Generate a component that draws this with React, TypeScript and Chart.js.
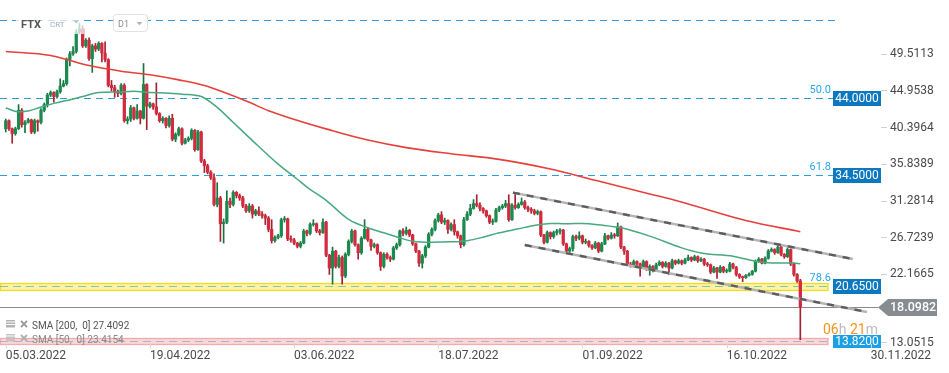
import React, { useEffect, useRef } from "react";
import { Chart, registerables } from "chart.js";

Chart.register(...registerables);

// ---------------- data ----------------
const symbol = "FTX";
const symbolType = "CRT";
const interval = "D1";

// daily candles, day 0 = 05.03.2022 ... day 248 = 08.11.2022
const firstOpen = 40.2;
const closes = [
  41.2, 40.2, 39.6, 40.2, 42.5, 40.7, 41.0, 41.3, 39.8, 41.2,
  41.0, 42.5, 43.2, 44.4, 44.7, 44.2, 44.8, 45.5, 45.8, 48.8,
  49.5, 49.8, 52.2, 52.6, 50.5, 51.2, 48.9, 50.5, 50.1, 50.8,
  49.6, 48.8, 45.6, 45.3, 44.8, 44.6, 45.6, 41.2, 41.4, 42.8,
  41.5, 42.4, 41.5, 45.7, 43.0, 43.3, 42.9, 42.1, 41.2, 41.5,
  40.6, 41.5, 38.9, 39.5, 40.2, 38.4, 38.8, 39.0, 40.0, 37.6,
  39.8, 36.2, 35.6, 34.8, 34.1, 30.8, 31.6, 28.4, 28.6, 31.2,
  30.8, 32.3, 31.9, 31.6, 30.6, 30.0, 30.6, 29.6, 30.0, 29.6,
  29.4, 29.1, 27.7, 26.3, 26.7, 26.9, 28.9, 29.0, 26.5, 26.4,
  26.0, 25.6, 26.0, 27.5, 27.2, 28.3, 28.4, 27.5, 27.3, 28.6,
  24.5, 22.9, 25.0, 23.1, 24.2, 21.9, 24.6, 26.2, 27.5, 25.8,
  24.8, 26.6, 27.7, 26.4, 25.6, 25.8, 24.8, 23.1, 24.6, 24.2,
  24.0, 25.4, 25.8, 27.5, 27.2, 27.6, 27.0, 25.9, 25.0, 23.5,
  24.4, 25.5, 27.1, 27.7, 28.8, 29.5, 28.6, 28.8, 27.7, 28.3,
  27.4, 26.9, 25.8, 28.9, 29.6, 30.3, 30.9, 30.7, 30.3, 30.0,
  29.4, 28.6, 28.7, 30.1, 30.4, 30.6, 30.9, 28.9, 30.7, 30.4,
  30.8, 31.1, 30.4, 30.2, 30.0, 29.7, 29.9, 27.0, 26.1, 27.3,
  26.8, 27.3, 27.5, 27.6, 25.9, 25.0, 25.3, 26.8, 26.6, 26.9,
  26.1, 26.2, 25.7, 25.4, 26.0, 25.0, 25.9, 26.9, 26.6, 27.0,
  26.9, 28.0, 25.5, 25.0, 23.4, 23.2, 23.7, 23.4, 22.9, 23.7,
  22.8, 23.1, 22.6, 23.3, 23.6, 23.1, 23.5, 22.9, 23.8, 23.5,
  23.8, 23.5, 23.9, 24.2, 23.9, 24.3, 23.8, 24.0, 23.4, 23.3,
  22.4, 22.9, 22.4, 23.0, 22.5, 22.5, 23.4, 23.0, 22.1, 21.8,
  21.7, 22.0, 22.1, 22.5, 23.7, 24.0, 23.5, 24.1, 25.0, 25.2,
  24.8, 25.5, 24.6, 24.3, 25.2, 23.4, 22.1, 21.3, 18.1,
];
const highs = [
  41.4, 41.3, 40.3, 40.4, 43.2, 42.7, 41.2, 41.5, 41.4, 41.4,
  41.3, 42.7, 43.4, 44.6, 44.9, 44.8, 45.0, 46.4, 46.2, 49.0,
  49.8, 50.4, 52.5, 53.3, 53.0, 51.4, 51.5, 50.7, 50.8, 51.0,
  50.9, 51.0, 48.9, 46.2, 45.6, 45.0, 45.8, 45.8, 41.7, 43.1,
  42.9, 43.2, 42.5, 48.3, 45.8, 43.5, 43.4, 45.9, 42.2, 41.7,
  41.6, 41.8, 42.0, 39.7, 40.4, 40.3, 39.0, 39.2, 40.2, 40.1,
  40.0, 39.9, 36.4, 35.8, 35.0, 34.6, 33.5, 31.8, 29.0, 32.5,
  31.6, 32.5, 32.4, 32.1, 31.8, 30.8, 30.9, 30.8, 30.2, 30.5,
  29.9, 29.6, 29.3, 28.9, 26.9, 27.1, 29.1, 29.3, 29.1, 26.9,
  26.6, 26.1, 26.2, 27.7, 27.6, 28.5, 28.9, 28.5, 27.7, 29.0,
  28.7, 24.6, 25.5, 25.1, 24.5, 24.4, 24.8, 26.4, 27.7, 27.6,
  25.9, 26.8, 28.9, 27.9, 26.5, 26.0, 25.9, 24.9, 24.8, 24.8,
  24.4, 25.6, 26.0, 27.6, 27.8, 28.0, 27.7, 27.1, 26.0, 25.1,
  24.6, 25.7, 27.3, 27.9, 29.0, 29.7, 29.9, 29.1, 28.9, 28.5,
  28.9, 27.5, 27.0, 29.2, 29.9, 30.8, 31.4, 32.0, 31.0, 30.4,
  30.1, 29.5, 29.0, 30.3, 30.6, 30.8, 31.3, 32.0, 30.9, 32.2,
  31.0, 31.6, 31.3, 30.6, 30.4, 30.2, 30.1, 30.0, 27.1, 27.5,
  27.4, 27.5, 27.7, 27.8, 27.7, 26.0, 25.5, 27.0, 27.0, 27.4,
  27.0, 26.5, 26.3, 25.8, 26.2, 26.1, 26.1, 27.2, 27.0, 27.3,
  27.2, 28.5, 28.1, 25.6, 25.1, 23.6, 23.9, 23.8, 23.5, 23.9,
  23.8, 23.3, 23.2, 23.5, 23.8, 23.7, 23.7, 23.6, 24.0, 23.9,
  24.0, 23.9, 24.1, 24.5, 24.3, 24.5, 24.4, 24.2, 24.1, 23.6,
  23.4, 23.1, 23.0, 23.2, 23.1, 22.8, 23.6, 23.5, 23.1, 22.2,
  21.9, 22.1, 22.3, 22.6, 23.9, 24.2, 24.1, 24.3, 25.2, 25.4,
  25.3, 25.8, 25.6, 24.7, 25.4, 25.3, 23.5, 22.2, 21.5,
];
const lows = [
  39.8, 40.0, 38.4, 39.4, 40.1, 40.4, 39.7, 40.9, 39.6, 39.6,
  39.9, 40.8, 42.3, 42.9, 44.2, 43.5, 44.0, 44.6, 45.4, 45.6,
  48.0, 49.3, 49.6, 52.0, 50.3, 50.3, 48.7, 47.2, 49.8, 49.9,
  48.5, 48.5, 45.4, 44.9, 44.1, 44.2, 44.4, 41.0, 40.8, 41.1,
  41.3, 41.4, 40.8, 41.4, 40.1, 42.8, 42.6, 41.9, 41.0, 40.9,
  40.3, 40.4, 38.7, 38.6, 39.3, 38.2, 38.3, 38.6, 38.8, 37.4,
  37.5, 36.0, 34.75, 34.6, 33.9, 30.6, 30.5, 26.2, 26.0, 28.4,
  30.4, 30.6, 31.6, 31.3, 30.4, 29.8, 29.8, 29.1, 29.4, 29.4,
  29.1, 28.3, 27.4, 26.0, 26.1, 26.5, 26.7, 28.6, 26.3, 26.1,
  25.8, 25.4, 25.4, 25.9, 26.9, 27.0, 28.1, 27.3, 27.0, 27.2,
  24.3, 22.1, 20.9, 22.9, 22.9, 20.9, 21.7, 24.4, 26.0, 25.6,
  24.0, 24.6, 26.5, 26.2, 25.1, 25.4, 24.6, 22.6, 22.9, 24.0,
  23.7, 23.9, 25.2, 25.6, 26.9, 27.0, 26.8, 25.7, 24.8, 23.1,
  22.9, 24.2, 25.4, 26.9, 27.5, 28.6, 28.4, 28.3, 27.2, 27.5,
  27.0, 26.6, 25.4, 25.6, 28.8, 29.4, 30.2, 30.5, 30.0, 29.7,
  29.2, 28.4, 28.3, 28.6, 29.9, 30.2, 30.4, 28.7, 28.8, 30.2,
  30.3, 30.7, 30.2, 29.9, 29.7, 29.5, 29.5, 26.8, 25.9, 26.0,
  26.5, 26.6, 27.0, 27.1, 25.7, 24.7, 24.8, 25.0, 26.3, 26.4,
  25.9, 25.9, 25.5, 25.2, 25.3, 24.8, 24.9, 25.8, 26.4, 26.5,
  26.6, 26.8, 25.3, 24.6, 23.2, 23.0, 23.0, 23.2, 21.9, 22.8,
  22.6, 22.0, 22.4, 22.5, 23.2, 22.9, 23.0, 22.1, 22.8, 23.3,
  23.4, 23.3, 23.4, 23.8, 23.7, 23.8, 23.6, 23.7, 23.2, 23.1,
  22.2, 22.3, 21.6, 22.3, 22.3, 22.3, 22.4, 22.8, 21.9, 21.6,
  21.2, 21.6, 21.9, 22.0, 22.4, 23.6, 23.4, 23.4, 24.0, 24.9,
  24.6, 24.7, 24.4, 24.1, 24.2, 23.2, 21.9, 21.1, 14.0,
];

// moving averages (day index -> value)
const sma200Days = [0, 14, 19, 26, 36, 45, 54, 62, 76, 82, 102, 113, 125, 139, 154, 170, 184, 201, 210, 231, 248];
const sma200Values = [49.8, 49.3, 48.8, 48.05, 47.35, 46.9, 46.27, 45.56, 43.48, 42.44, 39.95, 38.8, 37.86, 37.1, 36.4, 35.2, 33.8, 32.1, 31.2, 28.8, 27.41];
const sma50Days = [0, 4, 7, 11, 15, 19, 24, 29, 35, 40, 45, 50, 55, 61, 66, 71, 76, 85, 91, 94, 100, 107, 113, 118, 123, 127, 133, 139, 144, 149, 154, 160, 165, 170, 175, 180, 186, 192, 201, 211, 217, 227, 234, 239, 246, 248];
const sma50Values = [42.78, 42.3, 42.4, 42.9, 43.35, 43.7, 44.2, 44.7, 44.77, 44.85, 44.7, 44.65, 44.5, 44.2, 42.85, 40.98, 39.1, 35.8, 33.93, 32.96, 31.3, 28.94, 27.9, 27.27, 26.64, 26.23, 26.1, 26.15, 26.3, 26.73, 27.27, 27.77, 28.19, 28.44, 28.39, 28.44, 28.23, 27.89, 26.86, 25.4, 24.77, 24.36, 23.74, 23.53, 23.53, 23.42];

// descending channel
const channelUpperDays = [158.3, 264.4];
const channelUpperValues = [32.26, 24.02];
const channelLowerDays = [162.0, 268.8];
const channelLowerValues = [25.76, 17.44];

// horizontal levels
const fibTop = 53.7;
const fibLevels = [44.0, 34.5, 20.65];
const fibPercents = ["50.0", "61.8", "78.6"];
const fibLabels = ["44.0000", "34.5000", "20.6500"];
const lowLevel = 13.82;
const lowLabel = "13.8200";
const lastPrice = 18.0982;
const lastPriceLabel = "18.0982";
const bandHalf = 0.42;

// axes
const priceTicks = [49.5113, 44.9538, 40.3964, 35.8389, 31.2814, 26.7239, 22.1665, 17.609, 13.0515];
const dateDays = [0, 45, 90, 135, 180, 225, 270];
const dateLabels = ["05.03.2022", "19.04.2022", "03.06.2022", "18.07.2022", "01.09.2022", "16.10.2022", "30.11.2022"];

const smaLegend = ["SMA [200,  0] 27.4092", "SMA [50,  0] 23.4154"];
const countdownParts = ["06", "h", " 21", "m"];

// ---------------- styles ----------------
const FONT = "Roboto, 'Noto Sans', sans-serif";
const GREEN = "#1b8a4e";
const RED = "#d42a3e";
const GREEN_WICK = "#16743f";
const RED_WICK = "#a8202f";
const BLUE_LINE = "#2a9fe0";

const X_MIN = -1.8;
const X_MAX = 258.2;
const Y_MIN = 13.461;
const Y_MAX = 56.194;

function tri(ctx: CanvasRenderingContext2D, x: number, y: number, w: number, h: number, color: string) {
  ctx.fillStyle = color;
  ctx.beginPath();
  ctx.moveTo(x, y);
  ctx.lineTo(x + w, y);
  ctx.lineTo(x + w / 2, y + h);
  ctx.closePath();
  ctx.fill();
}

const overlayPlugin = {
  id: "overlay",
  beforeDatasetsDraw(chart: any) {
    const { ctx, chartArea: a, scales } = chart;
    const ys = scales.y;
    ctx.save();
    const L = a.left;
    const bandR = a.right - 5;

    const drawBand = (v: number, fill: string, stroke: string, dash: string) => {
      const t = Math.round(ys.getPixelForValue(v + bandHalf)) + 0.5;
      const b = Math.round(ys.getPixelForValue(v - bandHalf)) + 0.5;
      ctx.fillStyle = fill;
      ctx.fillRect(L, t, bandR - L, b - t);
      ctx.setLineDash([]);
      ctx.strokeStyle = stroke;
      ctx.lineWidth = 1.3;
      ctx.strokeRect(L + 0.5, t, bandR - L - 0.5, b - t);
      const m = Math.round(ys.getPixelForValue(v)) + 0.5;
      ctx.strokeStyle = dash;
      ctx.lineWidth = 1;
      ctx.setLineDash([8, 5]);
      ctx.beginPath();
      ctx.moveTo(L, m);
      ctx.lineTo(bandR, m);
      ctx.stroke();
    };
    drawBand(fibLevels[2], "#fcf3a4", "#f2da2c", "#86c6a0");
    drawBand(lowLevel, "#fbd7d7", "#f3abab", "#9fb7d5");

    // blue dashed fib lines
    ctx.strokeStyle = BLUE_LINE;
    ctx.lineWidth = 1;
    ctx.setLineDash([7, 5]);
    [fibTop, fibLevels[0], fibLevels[1]].forEach((v) => {
      const py = Math.round(ys.getPixelForValue(v)) + 0.5;
      ctx.beginPath();
      ctx.moveTo(L, py);
      ctx.lineTo(a.right + 2, py);
      ctx.stroke();
    });

    // last price line
    ctx.setLineDash([]);
    ctx.strokeStyle = "#8a8a8a";
    const lp = Math.round(ys.getPixelForValue(lastPrice)) + 0.5;
    ctx.beginPath();
    ctx.moveTo(L, lp);
    ctx.lineTo(a.right + 45, lp);
    ctx.stroke();
    ctx.restore();
  },
  afterDatasetsDraw(chart: any) {
    const { ctx, chartArea: a, scales } = chart;
    const xs = scales.x;
    const ys = scales.y;
    const R = a.right;
    ctx.save();

    // header
    ctx.fillStyle = "rgba(255,255,255,0.72)";
    ctx.fillRect(16, 11, 68, 23);
    ctx.textAlign = "left";
    ctx.textBaseline = "alphabetic";
    ctx.font = `bold 11px ${FONT}`;
    ctx.fillStyle = "#555";
    ctx.fillText(symbol, 21, 27.5);
    ctx.font = `8px ${FONT}`;
    ctx.fillStyle = "#a3adb7";
    ctx.fillText(symbolType, 50, 27);
    tri(ctx, 73.5, 20.5, 5.5, 3, "#b7c0c9");
    // interval box
    ctx.fillStyle = "#fff";
    ctx.strokeStyle = "#e1e1e1";
    ctx.lineWidth = 1;
    ctx.beginPath();
    (ctx as any).roundRect(113.5, 14.5, 34, 17, 3);
    ctx.fill();
    ctx.stroke();
    ctx.font = `9px ${FONT}`;
    ctx.fillStyle = "#8a8a8a";
    ctx.fillText(interval, 118, 27);
    tri(ctx, 136.5, 22, 6, 3.2, "#b3b3b3");

    // fib percent labels + price boxes
    fibLevels.forEach((v, i) => {
      const py = ys.getPixelForValue(v);
      ctx.font = `11px ${FONT}`;
      ctx.fillStyle = "#2aa6ee";
      ctx.textAlign = "right";
      ctx.textBaseline = "alphabetic";
      ctx.fillText(fibPercents[i], R - 2, py - 5);
      ctx.fillStyle = "#0b78c0";
      ctx.fillRect(R, Math.round(py) - 7, 48, 15);
      ctx.fillStyle = "#fff";
      ctx.font = `12px ${FONT}`;
      ctx.textAlign = "center";
      ctx.textBaseline = "middle";
      ctx.fillText(fibLabels[i], R + 24, Math.round(py) + 0.8);
    });
    {
      const py = ys.getPixelForValue(lowLevel);
      ctx.fillStyle = "#1ba0e6";
      ctx.fillRect(R, Math.round(py) - 6, 48, 13);
      ctx.fillStyle = "#fff";
      ctx.font = `12px ${FONT}`;
      ctx.textAlign = "center";
      ctx.textBaseline = "middle";
      ctx.fillText(lowLabel, R + 24, Math.round(py) + 0.8);
    }

    // right axis labels
    const tagY = ys.getPixelForValue(lastPrice);
    ctx.font = `12px ${FONT}`;
    ctx.textAlign = "left";
    ctx.textBaseline = "middle";
    priceTicks.forEach((v) => {
      let py = ys.getPixelForValue(v);
      if (Math.abs(py - tagY) < 12) return;
      py = Math.min(py, a.bottom - 2);
      ctx.fillStyle = "#d2d2d2";
      ctx.fillRect(R + 48, Math.round(py), 6, 1);
      ctx.fillStyle = "#4a4a4a";
      ctx.fillText(v.toFixed(4), R + 57, py + 0.5);
    });

    // current price tag
    {
      const yc = Math.round(tagY) + 0.5;
      ctx.fillStyle = "#878c90";
      ctx.beginPath();
      ctx.moveTo(R + 45, yc);
      ctx.lineTo(R + 55, yc - 8.5);
      ctx.lineTo(R + 104, yc - 8.5);
      ctx.lineTo(R + 104, yc + 8.5);
      ctx.lineTo(R + 55, yc + 8.5);
      ctx.closePath();
      ctx.fill();
      ctx.fillStyle = "#fff";
      ctx.font = `500 12.5px ${FONT}`;
      ctx.textAlign = "left";
      ctx.textBaseline = "middle";
      ctx.fillText(lastPriceLabel, R + 57, yc + 0.5);
    }

    // countdown
    {
      ctx.font = `14px ${FONT}`;
      ctx.textAlign = "left";
      ctx.textBaseline = "alphabetic";
      let cx = R - 10;
      countdownParts.forEach((p, i) => {
        ctx.fillStyle = i % 2 === 0 ? "#f7931e" : "#bdbdbd";
        ctx.fillText(p, cx, 333.5);
        cx += ctx.measureText(p).width;
      });
    }

    // date labels
    ctx.font = `12px ${FONT}`;
    ctx.textAlign = "left";
    ctx.textBaseline = "middle";
    dateDays.forEach((d, i) => {
      const px = xs.getPixelForValue(d);
      ctx.fillStyle = "#d6d6d6";
      ctx.fillRect(Math.round(px), a.bottom, 1, 4);
      ctx.fillStyle = "#4a4a4a";
      ctx.fillText(dateLabels[i], px, 355.5);
    });

    // SMA legend
    smaLegend.forEach((t, i) => {
      const by = 329 + i * 14;
      ctx.fillStyle = i === 0 ? "#b4b4b4" : "#c4c4c4";
      ctx.fillRect(6, by - 9, 9, 1.5);
      ctx.fillRect(6, by - 6.5, 9, 1.5);
      ctx.fillRect(6, by - 4, 9, 2.5);
      ctx.strokeStyle = i === 0 ? "#9c9c9c" : "#b0b0b0";
      ctx.lineWidth = 1.8;
      ctx.beginPath();
      ctx.moveTo(21, by - 8);
      ctx.lineTo(27, by - 2);
      ctx.moveTo(27, by - 8);
      ctx.lineTo(21, by - 2);
      ctx.stroke();
      ctx.font = `10px ${FONT}`;
      ctx.textAlign = "left";
      ctx.textBaseline = "alphabetic";
      ctx.fillStyle = i === 0 ? "#555" : "#8a8a8a";
      ctx.fillText(t, 32, by);
    });

    ctx.restore();
  },
};

export default function App() {
  const canvasRef = useRef<HTMLCanvasElement | null>(null);

  useEffect(() => {
    const canvas = canvasRef.current;
    if (!canvas) return;
    Chart.defaults.font.family = FONT;

    const n = Math.min(closes.length, highs.length, lows.length);
    const opens = closes.slice(0, n).map((c, i) => (i === 0 ? firstOpen : closes[i - 1]));
    const up = closes.slice(0, n).map((c, i) => c >= opens[i]);

    const bodies = closes.slice(0, n).map((c, i) => ({ x: i, y: [opens[i], c] }));
    const wicks = closes.slice(0, n).map((c, i) => ({
      x: i,
      y: [Math.min(lows[i], opens[i], c), Math.max(highs[i], opens[i], c)],
    }));

    const line = (days: number[], vals: number[]) => days.map((d, i) => ({ x: d, y: vals[i] }));

    const chart = new Chart(canvas, {
      type: "bar",
      data: {
        datasets: [
          {
            type: "line",
            data: line(channelUpperDays, channelUpperValues),
            borderColor: "#5d5d5d",
            borderWidth: 2.4,
            borderDash: [7, 7],
            pointRadius: 0,
            clip: false,
            order: 0,
          } as any,
          {
            type: "line",
            data: line(channelLowerDays, channelLowerValues),
            borderColor: "#5d5d5d",
            borderWidth: 2.4,
            borderDash: [7, 7],
            pointRadius: 0,
            clip: false,
            order: 0,
          } as any,
          {
            type: "line",
            data: line(channelUpperDays, channelUpperValues),
            borderColor: "#b4b4b4",
            borderWidth: 2.4,
            pointRadius: 0,
            clip: false,
            order: 1,
          } as any,
          {
            type: "line",
            data: line(channelLowerDays, channelLowerValues),
            borderColor: "#b4b4b4",
            borderWidth: 2.4,
            pointRadius: 0,
            clip: false,
            order: 1,
          } as any,
          {
            type: "line",
            data: line(sma200Days, sma200Values),
            borderColor: "#e5403c",
            borderWidth: 1.6,
            pointRadius: 0,
            cubicInterpolationMode: "monotone",
            order: 2,
          } as any,
          {
            type: "line",
            data: line(sma50Days, sma50Values),
            borderColor: "#47a97e",
            borderWidth: 1.5,
            pointRadius: 0,
            cubicInterpolationMode: "monotone",
            order: 2,
          } as any,
          {
            type: "bar",
            data: bodies,
            backgroundColor: up.map((u) => (u ? GREEN : RED)),
            borderWidth: 0,
            barThickness: 2.6,
            minBarLength: 1,
            grouped: false,
            order: 3,
          } as any,
          {
            type: "bar",
            data: wicks,
            backgroundColor: up.map((u) => (u ? GREEN_WICK : RED_WICK)),
            borderWidth: 0,
            barThickness: 1,
            grouped: false,
            order: 4,
          } as any,
        ],
      },
      options: {
        animation: false,
        responsive: false,
        devicePixelRatio: 1,
        events: [],
        layout: { padding: { left: 0, right: 116, top: 0, bottom: 29 } },
        plugins: {
          legend: { display: false },
          tooltip: { enabled: false },
        },
        scales: {
          x: { type: "linear", min: X_MIN, max: X_MAX, display: false, offset: false },
          y: { type: "linear", min: Y_MIN, max: Y_MAX, display: false },
        },
      } as any,
      plugins: [overlayPlugin as any],
    });

    return () => chart.destroy();
  }, []);

  return (
    <div style={{ position: "fixed", left: 0, top: 0, width: 949, height: 373, background: "#fff" }}>
      <canvas ref={canvasRef} width={949} height={373} style={{ display: "block", width: 949, height: 373 }} />
    </div>
  );
}
